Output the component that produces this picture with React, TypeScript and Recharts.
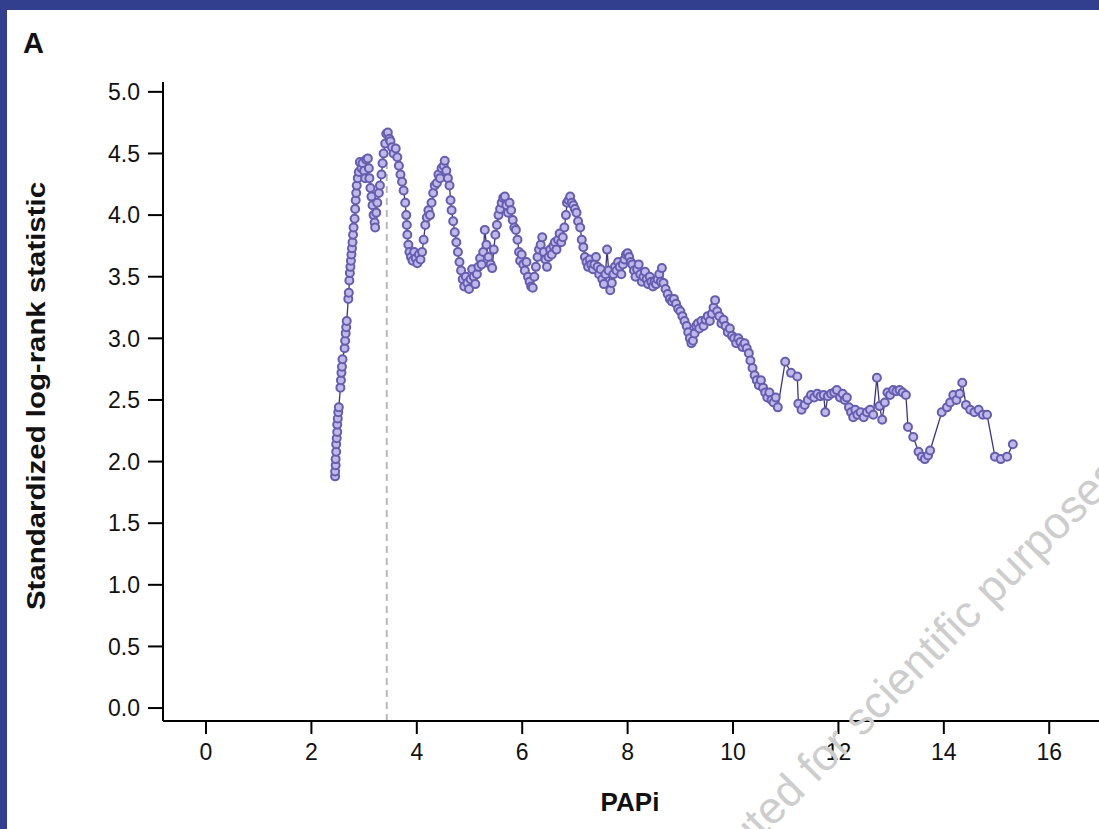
import React from 'react';
import { LineChart, Line, XAxis, YAxis, ReferenceLine, Label } from 'recharts';

// PAPi cut-point values (x) and standardized log-rank statistic (y)
const papi = [
  2.45, 2.45, 2.46, 2.46, 2.47, 2.47, 2.48, 2.49, 2.49, 2.5, 2.51, 2.52,
  2.55, 2.56, 2.57, 2.58, 2.59, 2.63, 2.64, 2.65, 2.66, 2.67, 2.7, 2.71,
  2.72, 2.73, 2.74, 2.75, 2.76, 2.77, 2.78, 2.79, 2.8, 2.82, 2.83, 2.84,
  2.85, 2.86, 2.88, 2.9, 2.92, 2.95, 2.97, 3.0, 3.02, 3.04, 3.07, 3.09,
  3.1, 3.12, 3.14, 3.16, 3.18, 3.2, 3.21, 3.23, 3.25, 3.28, 3.3, 3.33,
  3.35, 3.37, 3.4, 3.42, 3.45, 3.48, 3.5, 3.53, 3.56, 3.6, 3.63, 3.66,
  3.69, 3.72, 3.75, 3.78, 3.8, 3.81, 3.82, 3.84, 3.86, 3.89, 3.92, 3.95,
  3.98, 4.01, 4.04, 4.07, 4.1, 4.13, 4.16, 4.19, 4.22, 4.25, 4.28, 4.31,
  4.34, 4.38, 4.41, 4.44, 4.47, 4.51, 4.53, 4.56, 4.59, 4.62, 4.64, 4.66,
  4.69, 4.72, 4.75, 4.78, 4.81, 4.84, 4.87, 4.9, 4.93, 4.96, 4.99, 5.02,
  5.05, 5.08, 5.11, 5.14, 5.17, 5.2, 5.23, 5.26, 5.29, 5.32, 5.36, 5.4,
  5.43, 5.46, 5.49, 5.52, 5.55, 5.58, 5.61, 5.64, 5.67, 5.7, 5.73, 5.76,
  5.79, 5.82, 5.85, 5.88, 5.91, 5.94, 5.96, 5.99, 6.02, 6.05, 6.08, 6.11,
  6.14, 6.17, 6.2, 6.23, 6.26, 6.29, 6.32, 6.35, 6.38, 6.41, 6.44, 6.47,
  6.5, 6.53, 6.56, 6.59, 6.62, 6.65, 6.68, 6.71, 6.74, 6.77, 6.8, 6.83,
  6.85, 6.88, 6.91, 6.94, 6.97, 7.0, 7.03, 7.06, 7.1, 7.13, 7.16, 7.19,
  7.22, 7.25, 7.28, 7.31, 7.34, 7.37, 7.4, 7.43, 7.46, 7.49, 7.52, 7.55,
  7.58, 7.61, 7.64, 7.67, 7.7, 7.73, 7.76, 7.79, 7.82, 7.85, 7.88, 7.91,
  7.94, 7.97, 8.0, 8.03, 8.06, 8.09, 8.12, 8.15, 8.18, 8.21, 8.24, 8.27,
  8.3, 8.33, 8.36, 8.39, 8.42, 8.45, 8.48, 8.51, 8.54, 8.57, 8.6, 8.63,
  8.65, 8.68, 8.72, 8.76, 8.8, 8.84, 8.88, 8.92, 8.96, 9.0, 9.04, 9.08,
  9.12, 9.15, 9.18, 9.21, 9.24, 9.27, 9.3, 9.33, 9.36, 9.4, 9.44, 9.48,
  9.52, 9.56, 9.6, 9.63, 9.66, 9.7, 9.74, 9.78, 9.82, 9.86, 9.9, 9.94,
  9.98, 10.02, 10.06, 10.1, 10.14, 10.18, 10.22, 10.26, 10.3, 10.33, 10.37, 10.41,
  10.45, 10.49, 10.53, 10.57, 10.61, 10.65, 10.69, 10.73, 10.77, 10.81, 10.85, 10.99,
  11.1, 11.22, 11.24, 11.3, 11.36, 11.42, 11.48, 11.54, 11.6, 11.66, 11.72, 11.75,
  11.8, 11.86, 11.92, 11.97, 12.03, 12.08, 12.12, 12.16, 12.2, 12.24, 12.28, 12.32,
  12.36, 12.42, 12.48, 12.54, 12.6, 12.66, 12.73, 12.78, 12.83, 12.88, 12.93, 12.98,
  13.04, 13.1, 13.16, 13.22, 13.28, 13.32, 13.42, 13.52, 13.58, 13.64, 13.7, 13.74,
  13.96, 14.06, 14.12, 14.18, 14.24, 14.3, 14.35, 14.42, 14.5, 14.58, 14.66, 14.74,
  14.82, 14.97, 15.08, 15.2, 15.31,
];

const logRank = [
  1.88, 1.92, 1.97, 2.02, 2.08, 2.14, 2.19, 2.24, 2.3, 2.35, 2.4, 2.44,
  2.6, 2.66, 2.72, 2.77, 2.83, 2.92, 2.98, 3.04, 3.09, 3.14, 3.32, 3.37,
  3.47, 3.53, 3.58, 3.63, 3.68, 3.73, 3.78, 3.84, 3.9, 3.97, 4.05, 4.12,
  4.18, 4.24, 4.3, 4.35, 4.43, 4.38, 4.42, 4.36, 4.3, 4.45, 4.46, 4.38,
  4.3, 4.22, 4.15, 4.08, 4.0, 3.94, 3.9, 4.02, 4.1, 4.18, 4.24, 4.33,
  4.42, 4.5, 4.58, 4.66, 4.67, 4.62, 4.6, 4.55, 4.5, 4.54, 4.47, 4.4,
  4.33, 4.27, 4.2, 4.1, 4.0, 3.92, 3.84, 3.76, 3.7, 3.66, 3.63, 3.7,
  3.65, 3.61, 3.68, 3.64, 3.7, 3.8, 3.92, 3.98, 4.04, 4.0, 4.1, 4.18,
  4.24, 4.26, 4.33, 4.3, 4.38, 4.4, 4.44, 4.36, 4.3, 4.24, 4.12, 4.04,
  3.95, 3.86, 3.78, 3.7, 3.62, 3.55, 3.48, 3.42, 3.5, 3.45, 3.4, 3.48,
  3.56, 3.5, 3.44, 3.52, 3.58, 3.65, 3.6, 3.7, 3.88, 3.76, 3.66, 3.6,
  3.57, 3.72, 3.84, 3.92, 4.0, 4.05, 4.1, 4.14, 4.15, 4.08, 4.02, 4.1,
  4.04, 3.96, 3.9, 3.88, 3.8, 3.7, 3.63, 3.68, 3.6, 3.55, 3.62, 3.5,
  3.46, 3.42, 3.41, 3.5, 3.58, 3.66, 3.72, 3.76, 3.82, 3.7, 3.64, 3.58,
  3.66, 3.72, 3.68, 3.75, 3.78, 3.72, 3.8, 3.85, 3.78, 3.82, 3.9, 4.0,
  4.1, 4.12, 4.15, 4.1, 4.08, 4.05, 4.02, 3.95, 3.9, 3.8, 3.74, 3.66,
  3.62, 3.58, 3.64, 3.6, 3.56, 3.6, 3.66, 3.58, 3.52, 3.56, 3.48, 3.44,
  3.52, 3.72, 3.55, 3.39, 3.45, 3.52, 3.58, 3.55, 3.62, 3.58, 3.52, 3.6,
  3.64, 3.68, 3.69, 3.66, 3.62, 3.6, 3.55, 3.5, 3.56, 3.6, 3.52, 3.46,
  3.5, 3.54, 3.48, 3.44, 3.5, 3.46, 3.42, 3.46, 3.44, 3.48, 3.52, 3.46,
  3.57, 3.45, 3.4, 3.36, 3.32, 3.3, 3.32, 3.28, 3.24, 3.22, 3.18, 3.14,
  3.1, 3.05, 3.0, 2.96, 2.98, 3.04, 3.1, 3.12, 3.08, 3.14, 3.1, 3.15,
  3.18, 3.14, 3.2, 3.25, 3.31, 3.22, 3.18, 3.12, 3.15, 3.1, 3.05, 3.08,
  3.02, 3.0, 2.96, 3.0, 2.97, 2.93, 2.96, 2.92, 2.88, 2.82, 2.76, 2.7,
  2.66, 2.62, 2.66, 2.6, 2.56, 2.52, 2.56, 2.5, 2.48, 2.52, 2.44, 2.81,
  2.72, 2.69, 2.47, 2.42, 2.46, 2.5, 2.54, 2.52, 2.55, 2.53, 2.54, 2.4,
  2.53, 2.55, 2.56, 2.58, 2.52, 2.55, 2.5, 2.52, 2.44, 2.4, 2.36, 2.42,
  2.38, 2.4, 2.36, 2.4, 2.42, 2.38, 2.68, 2.45, 2.34, 2.48, 2.56, 2.54,
  2.58, 2.57, 2.58, 2.56, 2.54, 2.28, 2.2, 2.08, 2.04, 2.02, 2.05, 2.09,
  2.4, 2.44, 2.48, 2.54, 2.5, 2.55, 2.64, 2.46, 2.42, 2.4, 2.42, 2.38,
  2.38, 2.04, 2.02, 2.04, 2.14,
];

const xTicks = [0, 2, 4, 6, 8, 10, 12, 14, 16];
const yTicks = [0, 0.5, 1, 1.5, 2, 2.5, 3, 3.5, 4, 4.5, 5];
const cutPoint = 3.43;
const cutPointPeak = 4.67;

const data = papi.map((x, i) => ({ x, y: logRank[i] }));

const FONT = '"Liberation Sans", Arial, Helvetica, sans-serif';

export default function App() {
  return (
    <div
      style={{
        position: 'absolute',
        left: 0,
        top: 0,
        width: 1099,
        height: 829,
        background: '#323e8e',
        overflow: 'hidden',
        fontFamily: FONT,
      }}
    >
      <div
        style={{
          position: 'absolute',
          left: 7,
          top: 10,
          width: 1092,
          height: 819,
          background: '#ffffff',
        }}
      />
      <div style={{ position: 'absolute', left: 0, top: 0 }}>
        <LineChart
          width={1130}
          height={829}
          data={data}
          margin={{ top: 82, right: 17, left: 103, bottom: 68 }}
        >
          <XAxis
            dataKey="x"
            type="number"
            domain={[-0.816, 17.21]}
            ticks={xTicks}
            allowDataOverflow
            height={40}
            axisLine={{ stroke: '#000', strokeWidth: 2 }}
            tickLine={{ stroke: '#000', strokeWidth: 2 }}
            tickSize={13}
            tickMargin={10}
            tick={{ fill: '#111', fontSize: 23, fontFamily: FONT }}
          >
            <Label
              content={() => (
                <text
                  x={630}
                  y={811}
                  textAnchor="middle"
                  fontFamily={FONT}
                  fontWeight="bold"
                  fontSize={26}
                  fill="#111"
                >
                  PAPi
                </text>
              )}
            />
          </XAxis>
          <YAxis
            type="number"
            domain={[-0.105, 5.08]}
            ticks={yTicks}
            allowDataOverflow
            width={60}
            axisLine={{ stroke: '#000', strokeWidth: 2 }}
            tickLine={{ stroke: '#000', strokeWidth: 2 }}
            tickSize={15}
            tickMargin={8}
            tickFormatter={(v: number) => v.toFixed(1)}
            tick={{ fill: '#111', fontSize: 23, fontFamily: FONT }}
          >
            <Label
              content={() => (
                <text
                  x={45}
                  y={396}
                  transform="rotate(-90 45 396)"
                  textAnchor="middle"
                  fontFamily={FONT}
                  fontWeight="bold"
                  fontSize={25}
                  fill="#111"
                  textLength={428}
                  lengthAdjust="spacingAndGlyphs"
                >
                  Standardized log-rank statistic
                </text>
              )}
            />
          </YAxis>
          <ReferenceLine
            segment={[
              { x: cutPoint, y: -0.105 },
              { x: cutPoint, y: cutPointPeak },
            ]}
            stroke="#b8b8b8"
            strokeWidth={2}
            strokeDasharray="7 5"
            ifOverflow="visible"
          />
          <Line
            type="linear"
            dataKey="y"
            stroke="#3b337f"
            strokeWidth={1.3}
            isAnimationActive={false}
            dot={{ r: 4, stroke: '#655db0', strokeWidth: 2, fill: '#bfb9ea' }}
            activeDot={false}
          />
        </LineChart>
      </div>
      <svg
        width={1099}
        height={829}
        style={{ position: 'absolute', left: 0, top: 0, pointerEvents: 'none' }}
      >
        <text x={23} y={53} fontFamily={FONT} fontWeight="bold" fontSize={29} fill="#111">
          A
        </text>
        <text
          x={655}
          y={945}
          transform="rotate(-45 655 945)"
          fontFamily={FONT}
          fontSize={45}
          fill="#cdcdcd"
        >
          Distributed for scientific purposes
        </text>
      </svg>
    </div>
  );
}
